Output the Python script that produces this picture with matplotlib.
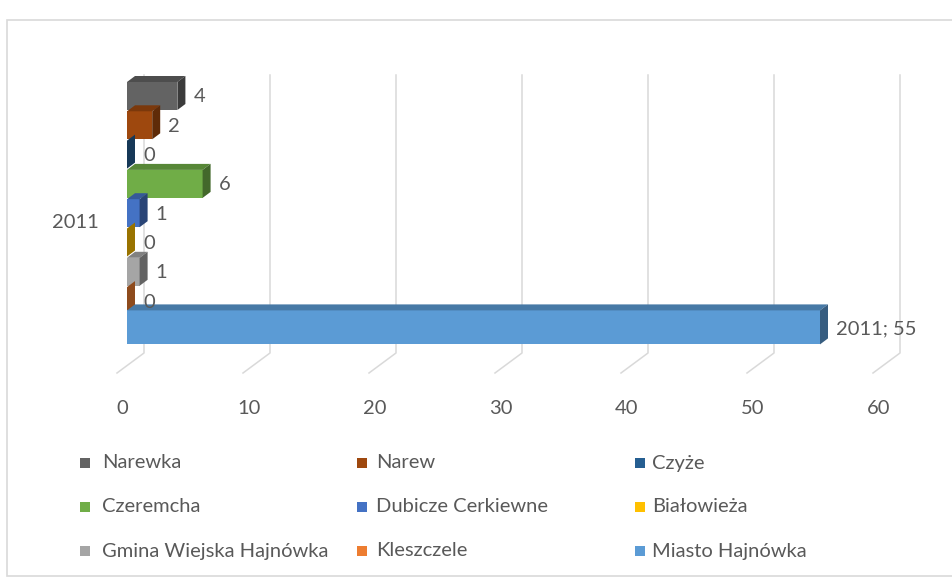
import matplotlib.pyplot as plt
from matplotlib.patches import Polygon, Rectangle
import numpy as np

plt.rcParams['font.family'] = ['Lato', 'DejaVu Sans']

category = '2011'
# series, top bar first (same order as the legend)
names = ['Narewka', 'Narew', 'Czyże', 'Czeremcha', 'Dubicze Cerkiewne',
         'Białowieża', 'Gmina Wiejska Hajnówka', 'Kleszczele', 'Miasto Hajnówka']
values = [4, 2, 0, 6, 1, 0, 1, 0, 55]
colors = ['#636363', '#9E480E', '#255E91', '#70AD47', '#4472C4',
          '#FFC000', '#A5A5A5', '#ED7D31', '#5B9BD5']
ticks = [0, 10, 20, 30, 40, 50, 60]

txt = '#595959'
grid_c = '#D9D9D9'
fs = 14.5

W, H = 953, 580
px_per_unit = 12.6
x0_px = 127

fig = plt.figure(figsize=(W / 100, H / 100), dpi=100)
ax = fig.add_axes([0, 0, 1, 1])
ax.set_xlim(-x0_px / px_per_unit, (W - x0_px) / px_per_unit)
ax.set_ylim(H, 0)
ax.axis('off')

# chart border
ax.add_patch(Rectangle((-x0_px / px_per_unit + 7 / px_per_unit, 20), (W - 7) / px_per_unit, 556,
                       fill=False, ec=grid_c, lw=1.2))

# 3d-ish gridlines (back wall + floor)
back = 17 / px_per_unit
front = -10 / px_per_unit
for t in ticks:
    ax.plot([t + back, t + back, t + front], [75, 353, 373], color=grid_c, lw=1.1, zorder=1)
    ax.text(t - 0.35, 408, str(t), ha='center', va='center', color=txt, fontsize=fs)

ax.text(-4.1, 222, category, ha='center', va='center', color=txt, fontsize=fs)

# bars
slot = 29.3
bottom0 = 110
fh = 28          # front face height
dx = 8 / px_per_unit
dy = 6


def shade(c, f):
    r, g, b = [int(c[i:i + 2], 16) / 255 for i in (1, 3, 5)]
    return (r * f, g * f, b * f)


for i, (n, v, c) in enumerate(zip(names, values, colors)):
    yb = bottom0 + slot * i
    h = fh + 6 if i == len(values) - 1 else fh
    yt = yb - h
    z = 3 + i
    ax.add_patch(Rectangle((0, yt), v, h, fc=c, ec='none', zorder=z))
    ax.add_patch(Polygon([(0, yt), (v, yt), (v + dx, yt - dy), (dx, yt - dy)],
                         fc=shade(c, 0.78), ec='none', zorder=z))
    ax.add_patch(Polygon([(v, yt), (v, yb), (v + dx, yb - dy), (v + dx, yt - dy)],
                         fc=shade(c, 0.6), ec='none', zorder=z))
    lab = f'{category}; {v}' if v == max(values) else str(v)
    ax.text(v + 16 / px_per_unit, (yt + yb) / 2 + 1, lab, ha='left', va='center',
            color=txt, fontsize=fs, zorder=20)

# legend, drawn row by row like the original
col_marker = [85, 362, 640]
col_text = [102, 376, 652]
rows = [463, 507, 551]
for k, (n, c) in enumerate(zip(names, colors)):
    r, col = divmod(k, 3)
    mx = (col_marker[col] - x0_px) / px_per_unit
    ax.add_patch(Rectangle((mx - 5 / px_per_unit, rows[r] - 5), 10 / px_per_unit, 10,
                           fc=c, ec='none'))
    ax.text((col_text[col] - x0_px) / px_per_unit, rows[r], n, ha='left', va='center',
            color=txt, fontsize=fs)

fig.savefig('out.png', dpi=100)
